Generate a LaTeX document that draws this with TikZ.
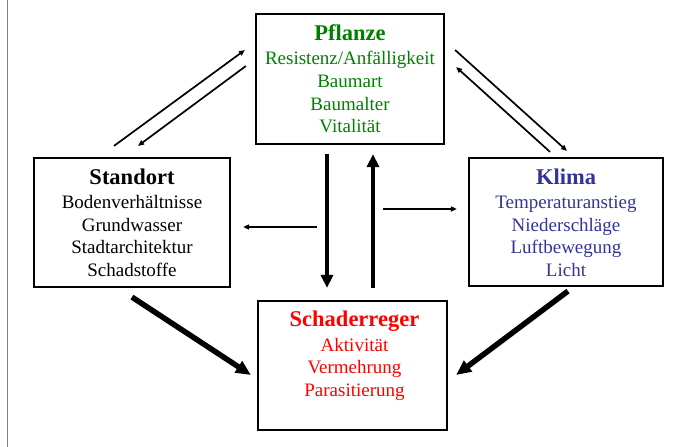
\documentclass[tikz,border=0pt]{standalone}
\usepackage{fontspec}
\setmainfont{Liberation Serif}
\usetikzlibrary{arrows.meta,calc}
\definecolor{pflgruen}{RGB}{0,128,0}
\definecolor{klimablau}{RGB}{51,51,153}
\definecolor{erregerrot}{RGB}{255,0,0}
\newcommand{\kopf}[1]{{\fontsize{22.5}{24}\selectfont\bfseries #1}\\[1.6pt]}

\begin{document}
\begin{tikzpicture}[x=1pt,y=-1pt,
    box/.style={draw, line width=2.2pt, inner sep=0pt},
    txt/.style={anchor=north, align=center, inner sep=0pt,
      font=\fontsize{19}{22.7}\selectfont},
    duenn/.style={line width=1.7pt, -{Triangle[length=6pt,width=5pt]}},
    dick/.style={line width=4.5pt, -{Triangle[length=13pt,width=12pt]}},
    dicker/.style={line width=5.5pt, -{Triangle[length=15pt,width=13pt]}}]
  \useasboundingbox (0,0) rectangle (681,447);
  \draw[gray, line width=1.5pt] (7.5,0) -- (7.5,447);

  \node[box, minimum width=188, minimum height=130] (pfl) at (350,79) {};
  \node[box, minimum width=196, minimum height=129] (std) at (132,222.5) {};
  \node[box, minimum width=194, minimum height=128] (klm) at (566,222) {};
  \node[box, minimum width=189, minimum height=129] (sch) at (352.5,365.5) {};

  \node[txt, text=pflgruen] (pfltxt) at ($(pfl.north)+(0,11.5)$)
    {\kopf{Pflanze}Resistenz/Anfälligkeit\\Baumart\\Baumalter\\Vitalität};
  \node[txt] (stdtxt) at ($(std.north)+(0,11.5)$)
    {\kopf{Standort}Bodenverhältnisse\\Grundwasser\\Stadtarchitektur\\Schadstoffe};
  \node[txt, text=klimablau] (klmtxt) at ($(klm.north)+(0,11.5)$)
    {\kopf{Klima}Temperaturanstieg\\Niederschläge\\Luftbewegung\\Licht};
  \node[txt, text=erregerrot] (schtxt) at ($(sch.north)+(2,11)$)
    {\kopf{Schaderreger}Aktivität\\Vermehrung\\Parasitierung};

  \draw[duenn] ($(std.north)+(-18,-11)$) -- ($(pfl.west)+(-10,-29)$);
  \draw[duenn] ($(pfl.west)+(-9,-13)$) -- ($(std.north)+(6,-11)$);
  \draw[duenn] ($(pfl.east)+(10,-29)$) -- ($(klm.north)+(1,-6)$);
  \draw[duenn] ($(klm.north)+(-16,-5)$) -- ($(pfl.east)+(11,-12)$);
  \draw[duenn] ($(klm.west)+(-85,-13)$) -- ($(klm.west)+(-11,-13)$);
  \draw[duenn] ($(std.east)+(86,4.5)$) -- ($(std.east)+(12,4.5)$);

  \draw[dick] ($(pfl.south)+(-23,9)$) -- ($(sch.north)+(-25.5,-12)$);
  \draw[dick] ($(sch.north)+(20.5,-12)$) -- ($(pfl.south)+(23,9)$);
  \draw[dicker] ($(std.south)+(0,9)$) -- ($(sch.west)+(-6,9.5)$);
  \draw[dicker] ($(klm.south)+(2,4)$) -- ($(sch.east)+(8,9.5)$);
\end{tikzpicture}
\end{document}
